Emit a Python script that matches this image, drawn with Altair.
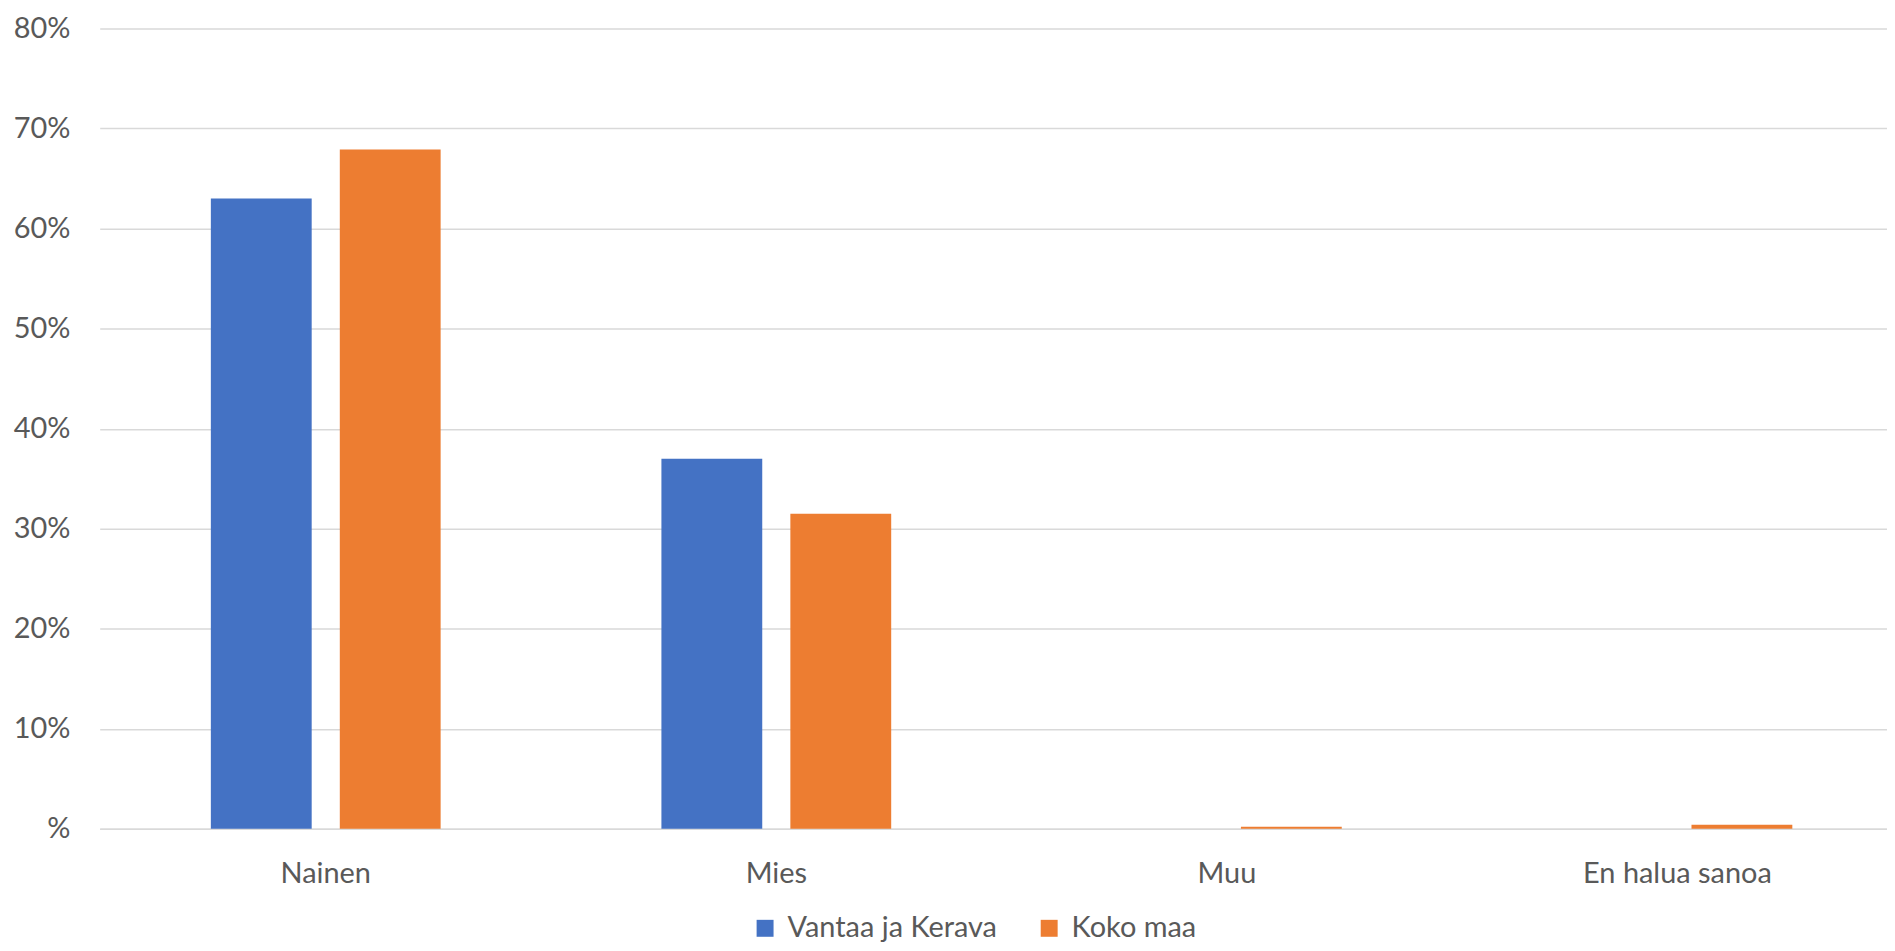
import altair as alt
import pandas as pd

categories = ["Nainen", "Mies", "Muu", "En halua sanoa"]
series = ["Vantaa ja Kerava", "Koko maa"]
vantaa_kerava = [63.0, 37.0, 0.0, 0.0]
koko_maa = [67.9, 31.5, 0.2, 0.4]
y_ticks = [0, 10, 20, 30, 40, 50, 60, 70, 80]
colors = ["#4472C4", "#ED7D31"]

rows = []
for i, c in enumerate(categories):
    rows.append({"Kategoria": c, "Sarja": series[0], "Arvo": vantaa_kerava[i]})
    rows.append({"Kategoria": c, "Sarja": series[1], "Arvo": koko_maa[i]})
df = pd.DataFrame(rows)

FONT = "Lato"
TXT = "#595959"
FS = 29

chart = alt.Chart(df).mark_bar().encode(
    x=alt.X("Kategoria:N", sort=categories, title=None,
            scale=alt.Scale(paddingInner=0.49, paddingOuter=0.2284, align=0.54),
            axis=alt.Axis(labelAngle=0, tickSize=0, labelPadding=31, labelLimit=0,
                          domainColor="#d9d9d9", domainWidth=1.5,
                          labelFontSize=FS, labelColor=TXT, labelFont=FONT)),
    xOffset=alt.XOffset("Sarja:N", sort=series,
                        scale=alt.Scale(paddingInner=0.218, paddingOuter=0)),
    y=alt.Y("Arvo:Q", title=None,
            scale=alt.Scale(domain=[0, 80], nice=False),
            axis=alt.Axis(values=y_ticks, tickSize=0, domain=False, labelLimit=0,
                          labelExpr="datum.value == 0 ? '%' : datum.value + '%'",
                          labelPadding=30, labelFontSize=FS, labelColor=TXT,
                          labelFont=FONT, gridColor="#d9d9d9", gridWidth=1.5)),
    color=alt.Color("Sarja:N", sort=series,
                    scale=alt.Scale(domain=series, range=colors),
                    legend=alt.Legend(title=None, orient="none", direction="horizontal",
                                      legendX=653, legendY=888, labelLimit=0,
                                      symbolType="square", symbolSize=289,
                                      symbolStrokeWidth=0, labelFontSize=FS,
                                      labelColor=TXT, labelFont=FONT,
                                      labelOffset=8, columnPadding=37)),
).properties(
    width=1793, height=803,
    autosize=alt.AutoSizeParams(type="none"),
    padding={"left": 92, "top": 19, "right": 0, "bottom": 113},
).configure_view(stroke=None)

chart.save("out.html", embed_options={"renderer": "svg", "actions": False})
